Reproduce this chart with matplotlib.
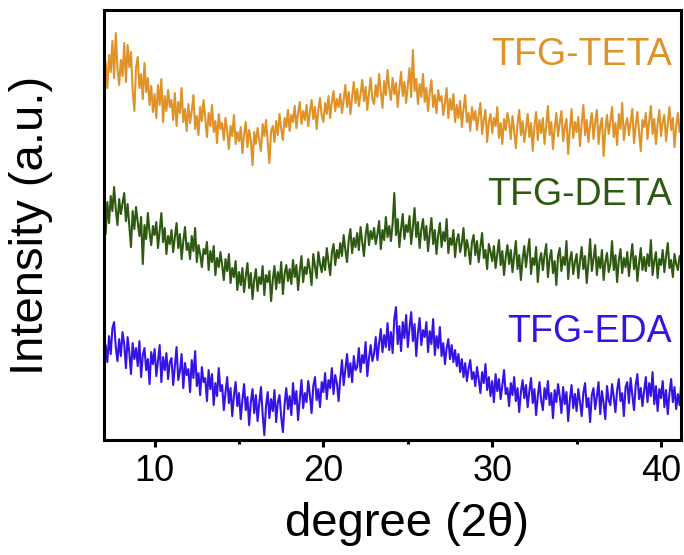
import numpy as np
import matplotlib.pyplot as plt
from matplotlib.ticker import MultipleLocator

plt.rcParams["font.family"] = ["Liberation Sans", "DejaVu Sans"]

# scan grid, 2theta in degrees (0.1 step)
two_theta = np.round(np.arange(7.0, 41.25, 0.1), 2)

# intensities (a.u., stacked with offsets as in the figure)
teta = [
    360, 378, 352, 385, 368, 399, 362, 407, 371, 355,
    380, 364, 397, 358, 395, 373, 388, 350, 329, 372,
    383, 352, 366, 341, 377, 348, 362, 335, 354, 328,
    346, 322, 355, 335, 361, 318, 344, 329, 350, 333,
    340, 320, 347, 314, 338, 327, 352, 318, 331, 309,
    336, 317, 329, 345, 311, 324, 305, 333, 319, 340,
    322, 303, 327, 314, 335, 308, 319, 297, 326, 311,
    317, 300, 322, 309, 291, 314, 304, 325, 296, 308,
    299, 313, 287, 306, 318, 293, 310, 300, 275, 308,
    296, 312, 300, 289, 316, 304, 320, 298, 277, 309,
    314, 298, 319, 305, 326, 311, 300, 322, 313, 330,
    309, 325, 318, 334, 312, 327, 338, 316, 329, 320,
    335, 314, 328, 340, 321, 333, 311, 330, 342, 324,
    318, 337, 326, 344, 322, 338, 349, 329, 341, 333,
    346, 327, 340, 355, 333, 348, 326, 343, 358, 337,
    351, 334, 346, 360, 339, 353, 330, 347, 362, 341,
    336, 355, 343, 366, 348, 332, 359, 345, 370, 351,
    340, 362, 346, 357, 333, 352, 368, 344, 358, 337,
    355, 372, 343, 390, 349, 361, 336, 356, 343, 366,
    338, 352, 329, 348, 360, 333, 345, 327, 350, 339,
    344, 325, 337, 352, 322, 341, 330, 346, 318, 335,
    322, 339, 313, 331, 345, 318, 327, 309, 333, 320,
    329, 310, 325, 337, 306, 320, 330, 298, 318, 326,
    307, 322, 314, 333, 302, 317, 296, 321, 310, 327,
    318, 301, 324, 309, 292, 316, 330, 305, 319, 298,
    311, 326, 303, 317, 289, 314, 328, 300, 320, 307,
    322, 296, 315, 334, 305, 318, 291, 312, 327, 304,
    317, 329, 299, 313, 321, 286, 311, 331, 302, 318,
    308, 323, 294, 317, 335, 305, 320, 298, 316, 327,
    301, 318, 330, 296, 314, 322, 284, 310, 325, 306,
    319, 333, 303, 317, 295, 326, 311, 337, 300, 315,
    322, 305, 318, 331, 297, 314, 328, 308, 289, 320,
    313, 327, 301, 319, 334, 306, 321, 296, 316, 330,
    304, 318, 325, 299, 316, 333, 310, 322, 293, 314,
    327, 308, 318,
]

deta = [
    222, 206, 238, 217, 244, 229, 253, 231, 215, 241,
    226, 237, 247, 219, 236, 214, 193, 229, 211, 233,
    218, 204, 223, 176, 215, 201, 227, 208, 195, 214,
    205, 218, 192, 209, 227, 198, 212, 186, 204, 196,
    210, 188, 203, 217, 192, 206, 181, 199, 213, 190,
    197, 181, 204, 189, 212, 178, 195, 186, 173, 191,
    186, 198, 170, 189, 178, 194, 165, 182, 173, 188,
    175, 160, 181, 169, 186, 157, 172, 163, 179, 150,
    168, 155, 172, 148, 164, 177, 152, 167, 141, 160,
    171, 149, 163, 156, 174, 145, 165, 158, 169, 139,
    160, 174, 151, 168, 157, 178, 146, 166, 175, 159,
    171, 156, 180, 163, 175, 150, 169, 184, 158, 173,
    166, 181, 170, 155, 186, 174, 162, 188, 176, 168,
    183, 170, 192, 178, 165, 187, 196, 175, 190, 182,
    197, 184, 205, 190, 178, 200, 211, 187, 202, 193,
    207, 190, 213, 198, 184, 205, 216, 195, 209, 201,
    212, 196, 206, 219, 191, 210, 200, 223, 203, 214,
    199, 216, 247, 205, 221, 193, 211, 226, 201, 215,
    208, 224, 196, 213, 232, 203, 218, 192, 210, 221,
    200, 214, 189, 207, 222, 196, 210, 186, 205, 217,
    193, 208, 199, 221, 187, 202, 195, 210, 183, 200,
    206, 188, 197, 212, 184, 200, 191, 176, 198, 205,
    185, 199, 178, 193, 207, 182, 190, 171, 196, 188,
    179, 194, 172, 186, 200, 175, 189, 165, 183, 195,
    176, 190, 168, 184, 199, 171, 185, 160, 181, 194,
    173, 188, 201, 166, 182, 175, 193, 158, 179, 187,
    170, 185, 196, 163, 181, 190, 167, 179, 155, 184,
    192, 169, 183, 175, 199, 161, 180, 188, 166, 178,
    186, 162, 179, 193, 171, 184, 157, 177, 201, 169,
    181, 195, 165, 183, 172, 190, 160, 178, 187, 168,
    176, 199, 170, 185, 158, 180, 191, 167, 182, 173,
    188, 164, 181, 196, 171, 184, 159, 177, 192, 170,
    183, 169, 186, 174, 200, 165, 179, 188, 162, 181,
    175, 190, 168, 184, 197, 172, 180, 163, 186, 176,
    170, 184, 178,
]

eda = [
    70, 95, 78, 104, 86, 112, 118, 93, 79, 101,
    84, 108, 96, 72, 103, 88, 66, 97, 81, 92,
    74, 99, 63, 85, 92, 70, 81, 56, 88, 76,
    91, 64, 79, 95, 58, 83, 70, 87, 61, 78,
    82, 55, 74, 93, 60, 69, 86, 52, 77, 65,
    71, 48, 80, 62, 89, 54, 67, 45, 73, 58,
    62, 39, 70, 51, 66, 35, 57, 44, 72, 49,
    55, 30, 48, 63, 37, 52, 24, 45, 58, 34,
    47, 21, 40, 56, 30, 43, 15, 38, 51, 27,
    45, 19, 37, 53, 26, 5, 34, 48, 22, 41,
    29, 50, 18, 38, 45, 23, 8, 36, 52, 31,
    44, 25, 57, 36, 49, 20, 41, 60, 32, 47,
    38, 59, 45, 27, 54, 63, 40, 51, 33, 58,
    48, 67, 41, 60, 52, 72, 46, 65, 57, 39,
    62, 80, 55, 71, 86, 63, 77, 58, 84, 70,
    73, 92, 68, 85, 77, 98, 64, 82, 95, 79,
    86, 103, 80, 97, 111, 88, 105, 93, 117, 90,
    108, 87, 121, 133, 96, 114, 89, 118, 102, 125,
    93, 112, 128, 99, 116, 84, 107, 122, 95, 110,
    103, 118, 88, 109, 96, 121, 85, 104, 92, 113,
    84, 97, 76, 92, 101, 81, 95, 78, 90, 74,
    86, 68, 81, 63, 77, 59, 72, 80, 61, 68,
    54, 73, 61, 47, 68, 57, 76, 50, 63, 44,
    59, 38, 66, 49, 61, 41, 55, 70, 46, 52,
    34, 57, 45, 63, 39, 52, 28, 48, 60, 42,
    55, 33, 49, 62, 37, 51, 25, 44, 58, 40,
    30, 52, 41, 59, 35, 47, 22, 50, 38, 56,
    44, 27, 53, 36, 48, 19, 40, 55, 32, 46,
    29, 51, 38, 24, 47, 57, 33, 42, 18, 45,
    52, 31, 44, 58, 26, 49, 37, 21, 54, 40,
    35, 56, 43, 28, 50, 61, 39, 47, 24, 53,
    58, 37, 62, 45, 30, 55, 66, 41, 52, 34,
    49, 63, 38, 57, 44, 68, 36, 54, 29, 51,
    42, 59, 33, 50, 26, 47, 61, 38, 53, 31,
    46, 35, 57,
]

names = ["TFG-TETA", "TFG-DETA", "TFG-EDA"]
colors = ["#DF9227", "#2D5A10", "#3414E2"]
label_y = [0.872, 0.547, 0.228]

fig = plt.figure(figsize=(6.84, 5.55), dpi=100)
ax = fig.add_axes([0.152, 0.207, 0.844, 0.775])

for y, c, name, ly in zip([teta, deta, eda], colors, names, label_y):
    ax.plot(two_theta, y, color=c, lw=1.5)
    ax.text(0.984, ly, name, color=c, fontsize=27, ha="right", va="baseline",
            transform=ax.transAxes)

ax.set_xlim(7, 41.2)
ax.set_ylim(0, 430)
ax.set_yticks([])
ax.xaxis.set_major_locator(MultipleLocator(10))
ax.xaxis.set_minor_locator(MultipleLocator(5))
ax.tick_params(axis="x", which="major", direction="out", length=5, width=2.2,
               labelsize=26, pad=5)
ax.tick_params(axis="x", which="minor", direction="out", length=3, width=2.2)
for s in ax.spines.values():
    s.set_linewidth(2.2)

ax.set_xlabel("degree (2\u03b8)", fontsize=34)
ax.xaxis.set_label_coords(0.525, -0.145)
ax.set_ylabel("Intensity (a.u.)", fontsize=34)
ax.yaxis.set_label_coords(-0.088, 0.5)

fig.savefig("out.png", dpi=100)
